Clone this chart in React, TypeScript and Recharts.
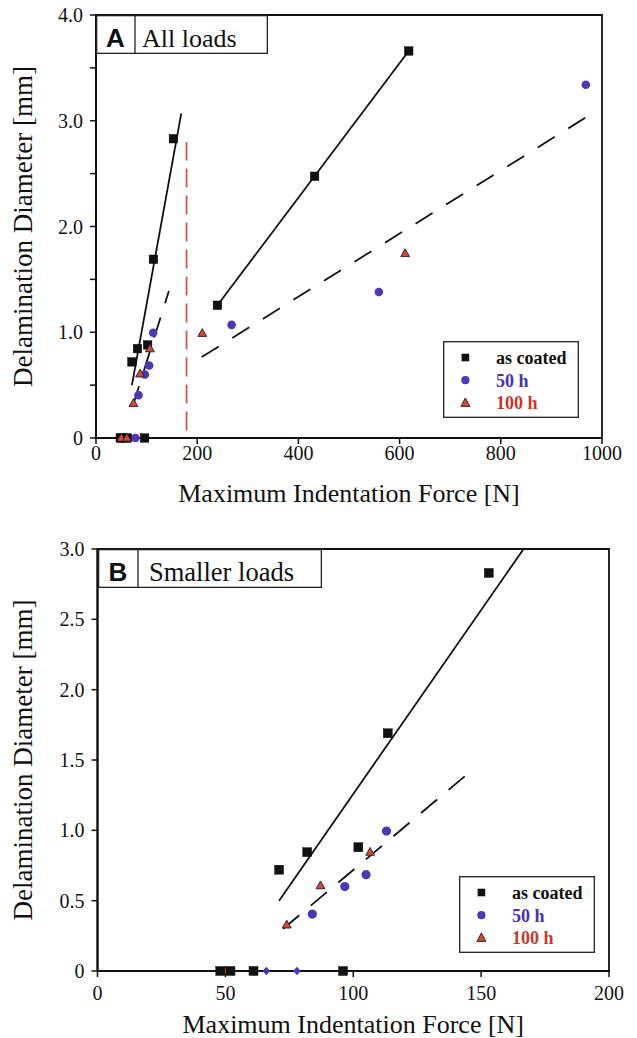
import React from 'react';
import { ComposedChart, Scatter, Line, XAxis, YAxis, ReferenceArea, Legend, Label } from 'recharts';

// ---------- data ----------
const asCoated = [
  { x: 48, y: 0 }, { x: 52, y: 0 }, { x: 61, y: 0 }, { x: 96, y: 0 },
  { x: 71, y: 0.72 }, { x: 82, y: 0.845 }, { x: 102, y: 0.88 }, { x: 113.5, y: 1.69 },
  { x: 153, y: 2.83 }, { x: 240, y: 1.255 }, { x: 432, y: 2.475 }, { x: 618, y: 3.66 },
];
const h50 = [
  { x: 84, y: 0.405 }, { x: 96.7, y: 0.6 }, { x: 105, y: 0.685 }, { x: 113, y: 0.995 },
  { x: 268, y: 1.07 }, { x: 559, y: 1.38 }, { x: 968, y: 3.34 },
];
const h50Zero = [{ x: 66, y: 0 }, { x: 78, y: 0 }];
const h100 = [
  { x: 50, y: 0 }, { x: 61, y: 0 }, { x: 74, y: 0.328 }, { x: 87.2, y: 0.607 },
  { x: 106.6, y: 0.845 }, { x: 210, y: 0.99 }, { x: 611, y: 1.745 },
];

// fitted lines
const fitCoatedSmallA = [{ x: 71, y: 0.5 }, { x: 168.5, y: 3.07 }];
const fitCoatedSmallB = [{ x: 71, y: 0.5 }, { x: 166.6, y: 3.0 }];
const fitCoatedLarge = [{ x: 240, y: 1.255 }, { x: 618, y: 3.66 }];
const fitAgedSmall = [{ x: 72.6, y: 0.3 }, { x: 144, y: 1.39 }];
const fitAgedLarge = [{ x: 209, y: 0.766 }, { x: 970, y: 3.037 }];
const thresholdLine = [{ x: 179, y: 0.07 }, { x: 179, y: 2.8 }];

// ticks
const xTicksA = [0, 200, 400, 600, 800, 1000];
const yTicksA = [0, 0.5, 1, 1.5, 2, 2.5, 3, 3.5, 4];
const xTicksB = [0, 50, 100, 150, 200];
const yTicksB = [0, 0.5, 1, 1.5, 2, 2.5, 3];

const legendEntries = [
  { name: 'as coated', color: '#111111', marker: 'square' },
  { name: '50 h', color: '#4b30b3', marker: 'circle' },
  { name: '100 h', color: '#c8382e', marker: 'triangle' },
];

// ---------- styles ----------
const SERIF = '"Liberation Serif","Times New Roman",Times,serif';
const SANS = '"Liberation Sans",Arial,Helvetica,sans-serif';
const BLACK = '#111111';
const BLUE = '#4f35b8';
const RED = '#d2473a';
const tickStyle = { fill: BLACK, fontSize: 20, fontFamily: SERIF };
const xTitleStyle = { fill: BLACK, fontSize: 26, fontFamily: SERIF };
const yTitleStyle = { fill: BLACK, fontSize: 27, fontFamily: SERIF, textAnchor: 'middle' as const };

const squareShape = (size: number) => (p: any) => (
  <rect x={p.cx - size / 2} y={p.cy - size / 2} width={size} height={size} fill={BLACK} stroke="#000" strokeWidth={0.4} />
);
const circleShape = (d: number) => (p: any) => <circle cx={p.cx} cy={p.cy} r={d / 2} fill={BLUE} />;
const triangleShape = (w: number, h: number) => (p: any) => (
  <polygon
    points={`${p.cx},${p.cy - h * 0.6} ${p.cx - w / 2},${p.cy + h * 0.4} ${p.cx + w / 2},${p.cy + h * 0.4}`}
    fill={RED}
    stroke="#2a1a1a"
    strokeWidth={0.9}
  />
);
const diamondShape = (w: number, h: number) => (p: any) => (
  <polygon
    points={`${p.cx},${p.cy - h / 2} ${p.cx + w / 2},${p.cy} ${p.cx},${p.cy + h / 2} ${p.cx - w / 2},${p.cy}`}
    fill={BLUE}
  />
);

const fmtA = (v: number) => (v === 0 ? '0' : v % 1 === 0 ? v.toFixed(1) : '');
const fmtB = (v: number) => (v === 0 ? '0' : v.toFixed(1));

function LegendBox() {
  return (
    <svg width={136} height={77} style={{ display: 'block' }}>
      <rect x={0.7} y={0.7} width={134.6} height={75.6} fill="#ffffff" stroke="#222" strokeWidth={1.3} />
      {legendEntries.map((e, i) => {
        const cy = 16.5 + i * 22.7;
        const cx = 22.4;
        let m: React.ReactNode = null;
        if (e.marker === 'square') m = <rect x={cx - 3.8} y={cy - 3.8} width={7.6} height={7.6} fill={BLACK} />;
        else if (e.marker === 'circle') m = <circle cx={cx} cy={cy} r={4.1} fill={BLUE} />;
        else
          m = (
            <polygon
              points={`${cx},${cy - 5} ${cx - 4.5},${cy + 3.5} ${cx + 4.5},${cy + 3.5}`}
              fill={RED}
              stroke="#2a1a1a"
              strokeWidth={0.9}
            />
          );
        return (
          <g key={e.name}>
            {m}
            <text x={53} y={cy + 6.5} fill={e.color} fontFamily={SERIF} fontWeight="bold" fontSize={18}>
              {e.name}
            </text>
          </g>
        );
      })}
    </svg>
  );
}

function PanelTag(props: { letter: string; text: string; left: number; top: number; width: number; cell: number; textX: number; fs: number }) {
  const { letter, text, left, top, width, cell, textX, fs } = props;
  const h = 39;
  return (
    <svg width={width} height={h} style={{ position: 'absolute', left, top, display: 'block' }}>
      <rect x={0.65} y={0.65} width={width - 1.3} height={h - 1.3} fill="#ffffff" stroke="#222" strokeWidth={1.3} />
      <line x1={cell} y1={0} x2={cell} y2={h} stroke="#222" strokeWidth={1.3} />
      <text x={cell / 2} y={32} textAnchor="middle" fontFamily={SANS} fontWeight="bold" fontSize={26} fill={BLACK}>
        {letter}
      </text>
      <text x={textX} y={32} fontFamily={SERIF} fontSize={fs} fill={BLACK}>
        {text}
      </text>
    </svg>
  );
}

const inB = (d: { x: number; y: number }[]) => d.filter((p) => p.x <= 200);

export default function App() {
  return (
    <div style={{ position: 'relative', width: 621, height: 1038, marginTop: -8 }}>
      {/* Panel A */}
      <div style={{ position: 'relative', width: 621, height: 518 }}>
        <ComposedChart width={621} height={518} margin={{ top: 15, right: 27, bottom: 10, left: 0 }}>
          <XAxis
            type="number"
            dataKey="x"
            domain={[0, 1000]}
            ticks={xTicksA}
            interval={0}
            height={70}
            tick={tickStyle}
            tickSize={6}
            axisLine={{ stroke: BLACK, strokeWidth: 2 }}
            tickLine={{ stroke: BLACK, strokeWidth: 1.5 }}
          >
            <Label value="Maximum Indentation Force [N]" position="insideBottom" offset={6} style={xTitleStyle} />
          </XAxis>
          <YAxis
            type="number"
            dataKey="y"
            domain={[0, 4]}
            ticks={yTicksA}
            interval={0}
            width={88}
            tick={tickStyle}
            tickFormatter={fmtA}
            tickSize={6}
            tickMargin={7}
            axisLine={{ stroke: BLACK, strokeWidth: 2 }}
            tickLine={{ stroke: BLACK, strokeWidth: 1.5 }}
          >
            <Label value="Delamination Diameter [mm]" position="insideLeft" angle={-90} offset={14} style={yTitleStyle} />
          </YAxis>
          <ReferenceArea x1={0} x2={1000} y1={0} y2={4} fill="none" fillOpacity={0} stroke={BLACK} strokeWidth={1.8} />
          <Line data={fitCoatedSmallA} dataKey="y" stroke={BLACK} strokeWidth={1.8} dot={false} isAnimationActive={false} legendType="none" />
          <Line data={fitCoatedLarge} dataKey="y" stroke={BLACK} strokeWidth={1.8} dot={false} isAnimationActive={false} legendType="none" />
          <Line data={fitAgedSmall} dataKey="y" stroke={BLACK} strokeWidth={1.8} strokeDasharray="21 15" dot={false} isAnimationActive={false} legendType="none" />
          <Line data={fitAgedLarge} dataKey="y" stroke={BLACK} strokeWidth={1.8} strokeDasharray="20 16" dot={false} isAnimationActive={false} legendType="none" />
          <Line data={thresholdLine} dataKey="y" stroke="#cf5a50" strokeWidth={1.8} strokeDasharray="19 8" dot={false} isAnimationActive={false} legendType="none" />
          <Scatter data={h50} dataKey="y" name="50 h" shape={circleShape(8.6)} isAnimationActive={false} />
          <Scatter data={h50Zero} dataKey="y" name="50 h zero" shape={circleShape(8.6)} isAnimationActive={false} legendType="none" />
          <Scatter data={asCoated} dataKey="y" name="as coated" shape={squareShape(8.6)} isAnimationActive={false} />
          <Scatter data={h100} dataKey="y" name="100 h" shape={triangleShape(8.8, 7.8)} isAnimationActive={false} />
          <Legend
            layout="vertical"
            align="center"
            verticalAlign="middle"
            content={() => <LegendBox />}
            wrapperStyle={{ left: 435, top: 341, width: 136, height: 77 }}
          />
        </ComposedChart>
        <PanelTag letter="A" text="All loads" left={88} top={15} width={172} cell={39} textX={46} fs={26} />
      </div>

      {/* Panel B */}
      <div style={{ position: 'relative', width: 621, height: 520 }}>
        <ComposedChart width={621} height={520} margin={{ top: 31, right: 20, bottom: 0, left: 0 }}>
          <XAxis
            type="number"
            dataKey="x"
            domain={[0, 200]}
            ticks={xTicksB}
            interval={0}
            height={67}
            tick={tickStyle}
            tickSize={6}
            tickMargin={9}
            axisLine={{ stroke: BLACK, strokeWidth: 2 }}
            tickLine={{ stroke: BLACK, strokeWidth: 1.5 }}
          >
            <Label value="Maximum Indentation Force [N]" position="insideBottom" offset={5} style={xTitleStyle} />
          </XAxis>
          <YAxis
            type="number"
            dataKey="y"
            domain={[0, 3]}
            ticks={yTicksB}
            interval={0}
            width={89.5}
            tick={tickStyle}
            tickFormatter={fmtB}
            tickSize={6}
            tickMargin={7}
            axisLine={{ stroke: BLACK, strokeWidth: 2 }}
            tickLine={{ stroke: BLACK, strokeWidth: 1.5 }}
          >
            <Label value="Delamination Diameter [mm]" position="insideLeft" angle={-90} offset={14} style={yTitleStyle} />
          </YAxis>
          <ReferenceArea x1={0} x2={200} y1={0} y2={3} fill="none" fillOpacity={0} stroke={BLACK} strokeWidth={1.8} />
          <Line data={fitCoatedSmallB} dataKey="y" stroke={BLACK} strokeWidth={1.8} dot={false} isAnimationActive={false} legendType="none" />
          <Line data={fitAgedSmall} dataKey="y" stroke={BLACK} strokeWidth={1.8} strokeDasharray="21 15" dot={false} isAnimationActive={false} legendType="none" />
          <Scatter data={inB(h100)} dataKey="y" name="100 h" shape={triangleShape(8.8, 7.8)} isAnimationActive={false} />
          <Scatter data={inB(h50)} dataKey="y" name="50 h" shape={circleShape(9.2)} isAnimationActive={false} />
          <Scatter data={h50Zero} dataKey="y" name="50 h zero" shape={diamondShape(7.7, 8.7)} isAnimationActive={false} legendType="none" />
          <Scatter data={inB(asCoated)} dataKey="y" name="as coated" shape={squareShape(9)} isAnimationActive={false} />
          <Legend
            layout="vertical"
            align="center"
            verticalAlign="middle"
            content={() => <LegendBox />}
            wrapperStyle={{ left: 451, top: 358, width: 136, height: 77 }}
          />
        </ComposedChart>
        <PanelTag letter="B" text="Smaller loads" left={89.5} top={31} width={224} cell={40} textX={51} fs={26.5} />
      </div>
    </div>
  );
}
